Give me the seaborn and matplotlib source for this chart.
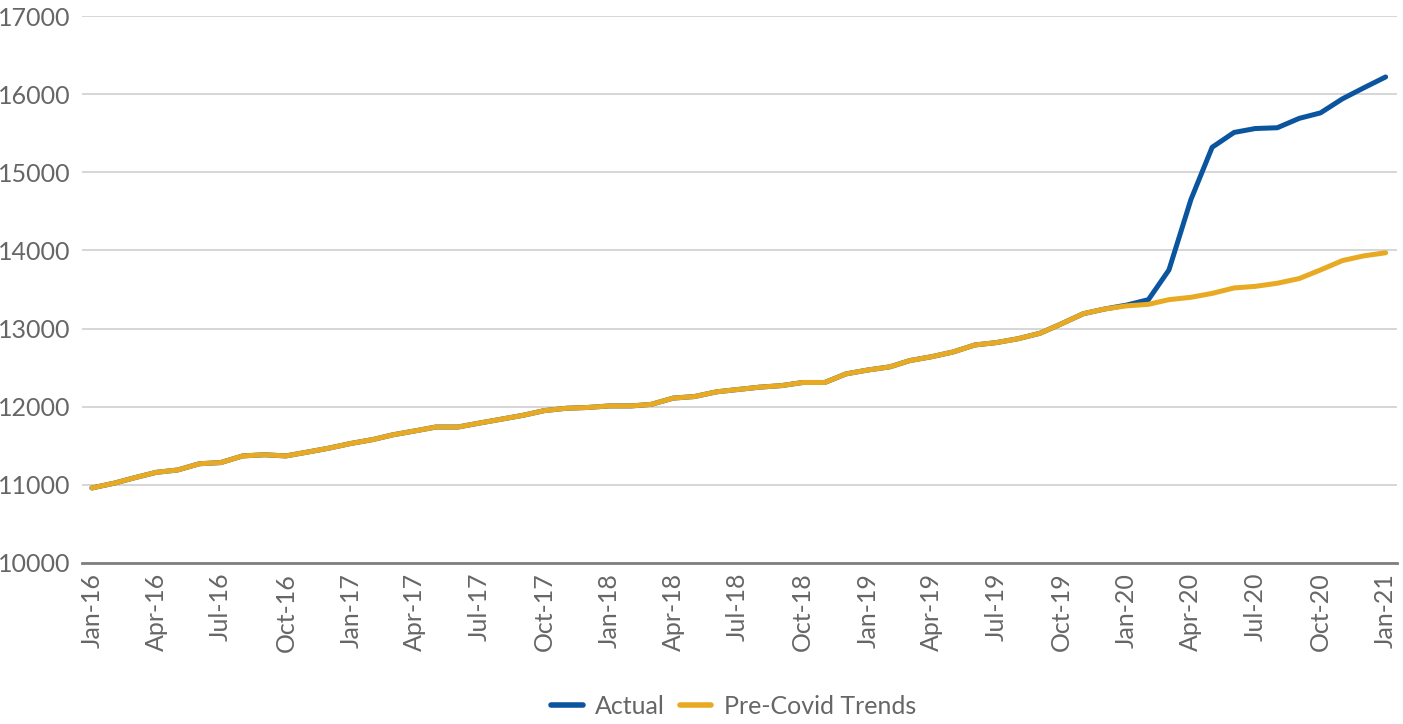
import matplotlib
matplotlib.use("Agg")
import matplotlib.pyplot as plt
import matplotlib.dates as mdates
import seaborn as sns
import pandas as pd

# monthly values, Jan-16 .. Jan-21
months = pd.date_range("2016-01-01", periods=61, freq="MS")

trend = [10960, 11020, 11090, 11160, 11190, 11270, 11285, 11370, 11385, 11370,
         11420, 11470, 11530, 11580, 11640, 11690, 11740, 11740, 11790, 11840,
         11890, 11950, 11980, 11990, 12010, 12010, 12030, 12110, 12130, 12190,
         12220, 12250, 12270, 12310, 12310, 12420, 12470, 12510, 12590, 12640,
         12700, 12790, 12820, 12870, 12940, 13060, 13190, 13250, 13290, 13310,
         13370, 13400, 13450, 13520, 13540, 13580, 13640, 13750, 13870, 13930,
         13970]

actual = trend[:48] + [13300, 13370, 13750, 14650, 15320, 15510, 15560, 15570,
                       15690, 15760, 15940, 16080, 16220]

series_names = ["Actual", "Pre-Covid Trends"]
colors = ["#0B559F", "#E8AA22"]

df = pd.concat([
    pd.DataFrame({"month": months, "value": actual, "series": series_names[0]}),
    pd.DataFrame({"month": months, "value": trend, "series": series_names[1]}),
])

sns.set_style("white")
plt.rcParams["font.family"] = ["Lato", "DejaVu Sans"]
txt = "#666666"

fig = plt.figure(figsize=(14.03, 7.24), dpi=100)
ax = fig.add_axes([0.0584, 0.2224, 0.9373, 0.7555])

sns.lineplot(data=df, x="month", y="value", hue="series", hue_order=series_names,
             palette=colors, linewidth=3.6, ax=ax, legend=False)

ax.set_ylim(10000, 17000)
ax.set_yticks(range(10000, 17001, 1000))
ax.set_xlim(months[0] - pd.Timedelta(days=14), months[-1] + pd.Timedelta(days=16))
ax.set_xticks(months[::3])
ax.xaxis.set_major_formatter(mdates.DateFormatter("%b-%y"))

ax.grid(axis="y", color="#D0D0D0", linewidth=1.2)
ax.set_axisbelow(True)
for s in ["left", "right", "top"]:
    ax.spines[s].set_visible(False)
ax.spines["bottom"].set_color("#7F7F7F")
ax.spines["bottom"].set_linewidth(2)

ax.tick_params(axis="y", length=0, labelsize=18, labelcolor=txt, pad=8)
ax.tick_params(axis="x", length=0, labelsize=18, labelcolor=txt, pad=7, rotation=90)
ax.set_xlabel("")
ax.set_ylabel("")

handles = [plt.Line2D([], [], color=c, linewidth=4, solid_capstyle="round") for c in colors]
fig.legend(handles, series_names, loc="center", bbox_to_anchor=(0.523, 0.024), ncol=2,
           frameon=False, fontsize=18, labelcolor=txt, handlelength=1.25,
           columnspacing=0.6, handletextpad=0.5)

fig.savefig("out.png", dpi=100)
